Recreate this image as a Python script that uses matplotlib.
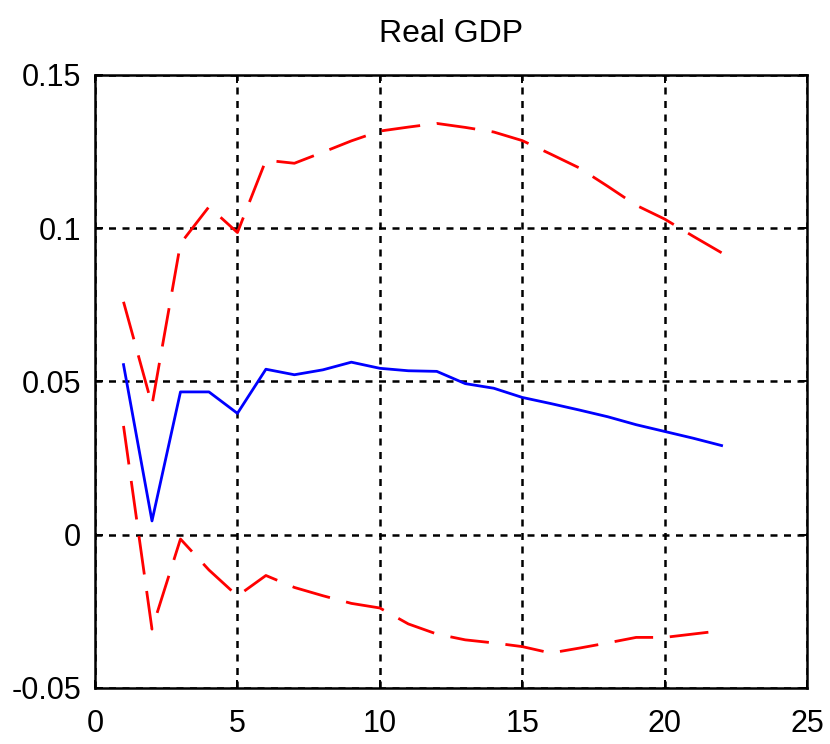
import matplotlib
matplotlib.use('Agg')
import matplotlib.pyplot as plt
from matplotlib.ticker import FuncFormatter

# --- Data ---
horizon = list(range(1, 23))
median = [0.0555, 0.0045, 0.0466, 0.0466, 0.0396, 0.0540, 0.0522, 0.0538,
          0.0563, 0.0543, 0.0535, 0.0533, 0.0493, 0.0478, 0.0448, 0.0428,
          0.0407, 0.0385, 0.0359, 0.0337, 0.0315, 0.0291]
upper = [0.0760, 0.0423, 0.0950, 0.1070, 0.0986, 0.1222, 0.1212, 0.1248,
         0.1285, 0.1317, 0.1330, 0.1342, 0.1329, 0.1314, 0.1286, 0.1242,
         0.1197, 0.1137, 0.1075, 0.1030, 0.0974, 0.0920]
lower = [0.0355, -0.0308, -0.0014, -0.0115, -0.0200, -0.0133, -0.0172, -0.0199,
         -0.0224, -0.0239, -0.0291, -0.0324, -0.0343, -0.0353, -0.0365, -0.0386,
         -0.0370, -0.0353, -0.0335, -0.0335, -0.0324, -0.0313]
xticks = [0, 5, 10, 15, 20, 25]
yticks = [-0.05, 0, 0.05, 0.1, 0.15]

plt.rcParams['font.family'] = ['Liberation Sans', 'DejaVu Sans']

# --- Figure ---
fig = plt.figure(figsize=(8.3, 7.44), dpi=100)
ax = fig.add_axes([0.1145, 0.0753, 0.8578, 0.8239])

ax.plot(horizon, upper, color='red', lw=2, dashes=(14, 6))
ax.plot(horizon, median, color='blue', lw=2)
ax.plot(horizon, lower, color='red', lw=2, dashes=(14, 6))

ax.set_xlim(0, 25)
ax.set_ylim(-0.05, 0.15)
ax.set_xticks(xticks)
ax.set_yticks(yticks)
ax.yaxis.set_major_formatter(FuncFormatter(lambda v, p: '%g' % v))

ax.grid(True, color='black', linestyle=(0, (2.8, 2.6)), linewidth=1.8)
ax.tick_params(direction='in', length=6, width=1.4, top=True, right=True,
               labelsize=22)
ax.tick_params(axis='y', pad=10)
ax.tick_params(axis='x', pad=15)
for s in ax.spines.values():
    s.set_linewidth(1.8)

ax.set_title('Real GDP', fontsize=23, pad=24)

fig.savefig('out.png', dpi=100)
